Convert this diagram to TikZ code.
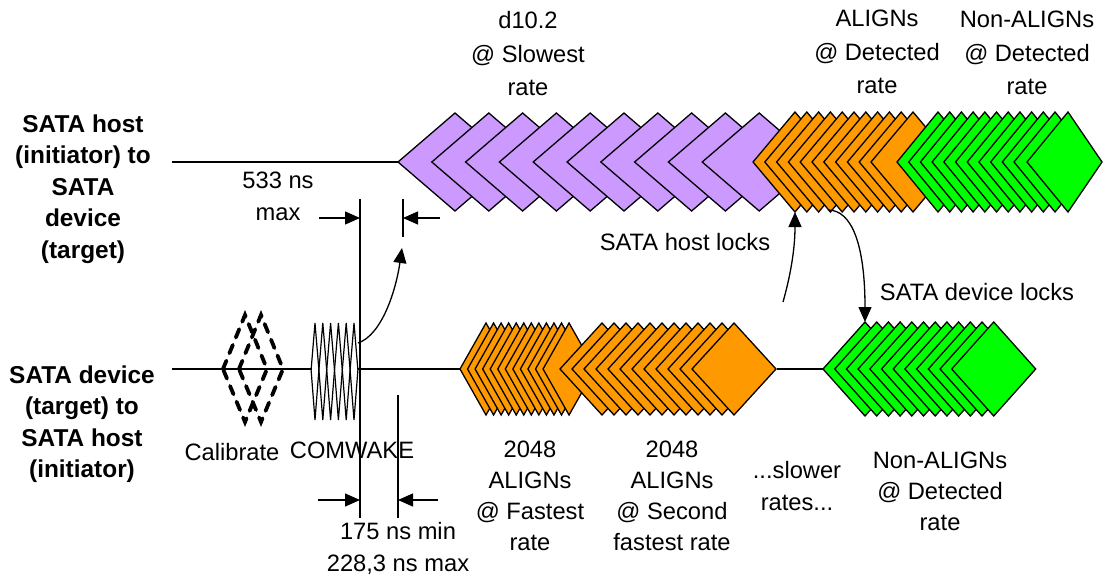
\documentclass[tikz,border=0pt]{standalone}
\usepackage{fontspec}
\setmainfont{Liberation Sans}
\usetikzlibrary{arrows.meta}
\definecolor{purp}{HTML}{CC99FF}
\definecolor{orng}{HTML}{FF9900}
\definecolor{grn}{HTML}{00FF00}
\newcommand\dmnd[5]{\filldraw[dia, fill=#5] (#1,#2) -- ++(#3,-#4) -- ++(#3,#4) -- ++(-#3,#4) -- cycle;}
\begin{document}
\begin{tikzpicture}[x=1pt,y=-1pt,
  dia/.style={draw=black, line width=1.3pt, line join=miter},
  ln/.style={draw=black, line width=1.3pt},
  arr/.style={draw=black, line width=1.3pt, -{Triangle[length=15pt,width=13pt]}},
  cal/.style={draw=black, line width=3.8pt, line cap=round, dash pattern=on 9pt off 8pt},
  lbl/.style={font=\fontsize{23.7}{32}\selectfont, align=center, inner sep=0pt},
  blbl/.style={font=\fontsize{24.4}{31.5}\selectfont\bfseries, align=center, inner sep=0pt}]
\useasboundingbox (0,0) rectangle (1105,580);
\fill[white] (0,0) rectangle (1105,580);
% coordinates
\coordinate (hostL) at (172,162);
\coordinate (hostR) at (398,162);
\coordinate (devL) at (172,369);
\coordinate (cwL) at (312,369);
\coordinate (cwR) at (358,369);
\coordinate (o1L) at (460,369);
\coordinate (o2R) at (777,369);
\coordinate (gL) at (823,369);
% top line
\draw[ln] (hostL) -- (hostR);
% top diamonds
\foreach \i in {0,...,9} {\pgfmathsetmacro\xx{398+33.8*\i}\dmnd{\xx}{162}{57}{49}{purp}}
\foreach \i in {0,...,10} {\pgfmathsetmacro\xx{753+11.8*\i}\dmnd{\xx}{162}{42}{50}{orng}}
\foreach \i in {0,...,10} {\pgfmathsetmacro\xx{897+11.7*\i}\dmnd{\xx}{162}{41}{50}{grn}}
\filldraw[dia, fill=grn] (1027,162) -- (1068,112) -- (1102,162) -- (1068,212) -- cycle;
% bottom line
\draw[ln] (devL) -- (cwL);
\draw[ln] (cwR) -- (o1L);
\draw[ln] (o2R) -- (gL);
% calibrate
\draw[cal] (223,369) -- (245,315) -- (267,369) -- (245,422) -- cycle;
\draw[cal] (239,369) -- (261,315) -- (283,369) -- (261,422) -- cycle;
% comwake
\foreach \k in {0,...,5} {\pgfmathsetmacro\cx{315+7.8*\k}
  \draw[black, line width=1.2pt, line join=miter] (\cx,323) -- (\cx-3.9,370) -- (\cx,420) -- (\cx+3.9,370) -- cycle;}
% bottom diamonds
\foreach \i in {0,...,11} {\pgfmathsetmacro\xx{460+7.55*\i}\dmnd{\xx}{369}{26}{46}{orng}}
\foreach \i in {0,...,11} {\pgfmathsetmacro\xx{560+12*\i}\dmnd{\xx}{369}{42}{46}{orng}}
\foreach \i in {0,...,11} {\pgfmathsetmacro\xx{823+11.7*\i}\dmnd{\xx}{369}{42}{47}{grn}}
% timing marks
\coordinate (v1t) at (360,199); \coordinate (v1b) at (360,518);
\coordinate (v2t) at (403,199); \coordinate (v2b) at (403,237);
\coordinate (v3t) at (398,395); \coordinate (v3b) at (398,518);
\draw[ln] (v1t) -- (v1b);
\draw[ln] (v2t) -- (v2b);
\draw[ln] (v3t) -- (v3b);
\coordinate (a1s) at (319,218); \coordinate (a1e) at (360,218);
\coordinate (a2s) at (440,218); \coordinate (a2e) at (403,218);
\coordinate (a3s) at (318,500); \coordinate (a3e) at (360,500);
\coordinate (a4s) at (438,500); \coordinate (a4e) at (398,500);
\draw[arr] (a1s) -- (a1e);
\draw[arr] (a2s) -- (a2e);
\draw[arr] (a3s) -- (a3e);
\draw[arr] (a4s) -- (a4e);
% curved arrows
\coordinate (c1s) at (358,343); \coordinate (c1e) at (402,248);
\coordinate (c2s) at (783,302); \coordinate (c2e) at (795,212);
\coordinate (c3s) at (828,210); \coordinate (c3e) at (865,322);
\draw[arr] (c1s) .. controls (382,335) and (396,290) .. (c1e);
\draw[arr] (c2s) .. controls (792,270) and (795,245) .. (c2e);
\draw[arr] (c3s) .. controls (852,210) and (865,245) .. (c3e);
% labels
\node[blbl] (hostlbl) at (83,189) {SATA host\\(initiator) to\\SATA\\device\\(target)};
\node[blbl] (devlbl) at (82,424) {SATA device\\(target) to\\SATA host\\(initiator)};
\node[lbl, font=\fontsize{23.7}{33.5}\selectfont] (d10) at (528,54) {d10.2\\@ Slowest\\rate};
\node[lbl, font=\fontsize{23.7}{33.5}\selectfont] (alt) at (877,52) {ALIGNs\\@ Detected\\rate};
\node[lbl, font=\fontsize{23.7}{33.5}\selectfont] (nat) at (1027,53) {Non-ALIGNs\\@ Detected\\rate};
\node[lbl] (t533) at (278,196) {533 ns\\max};
\node[lbl] (hlock) at (685,242) {SATA host locks};
\node[lbl] (dlock) at (977,292) {SATA device locks};
\node[lbl] (calib) at (232,452) {Calibrate};
\node[lbl] (cwk) at (352,450) {COMWAKE};
\node[lbl] (t175) at (398,548) {175 ns min\\228,3 ns max};
\node[lbl, font=\fontsize{23.7}{31}\selectfont] (g1) at (530,496) {2048\\ALIGNs\\@ Fastest\\rate};
\node[lbl, font=\fontsize{23.7}{31}\selectfont] (g2) at (672,496) {2048\\ALIGNs\\@ Second\\fastest rate};
\node[lbl] (slow) at (797,486) {...slower\\rates...};
\node[lbl, font=\fontsize{23.7}{31}\selectfont] (nab) at (940,491) {Non-ALIGNs\\@ Detected\\rate};
\end{tikzpicture}
\end{document}
